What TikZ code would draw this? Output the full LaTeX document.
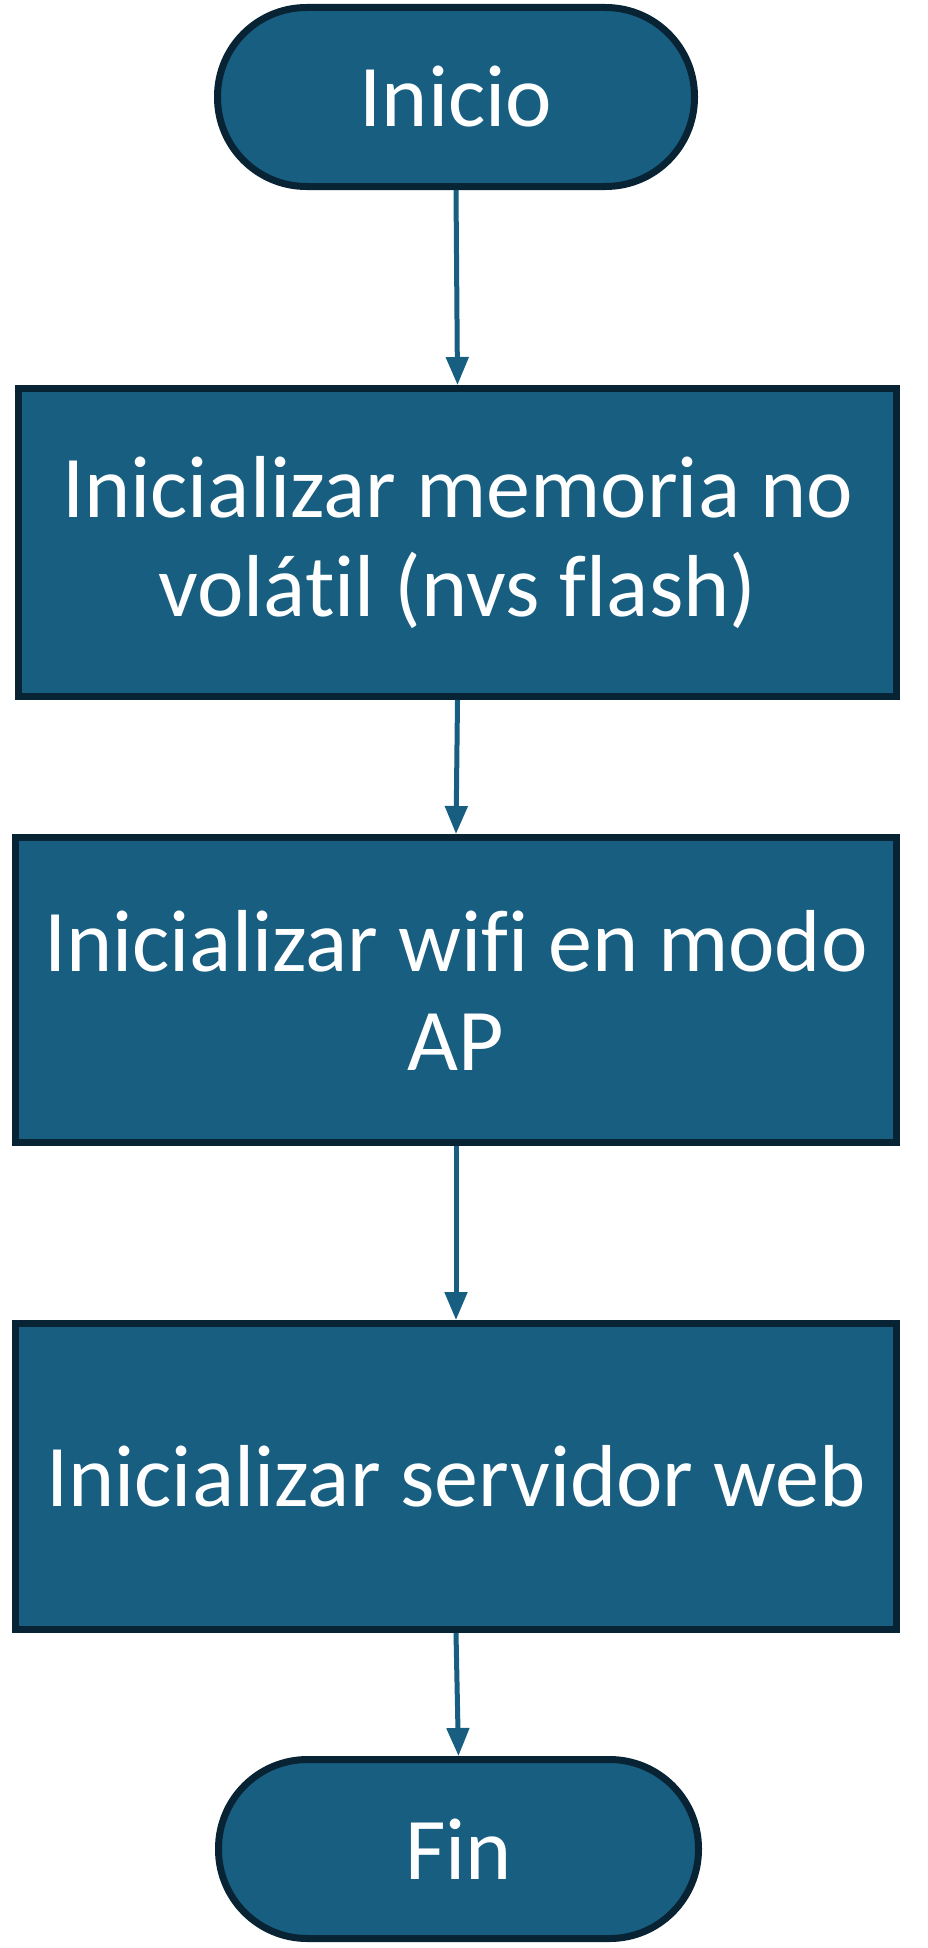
\documentclass[tikz,border=0pt]{standalone}
\usepackage{fontspec}
\setmainfont[RawFeature={-liga;-clig;-dlig}]{Carlito}
\usetikzlibrary{arrows.meta}
\definecolor{boxfill}{RGB}{24,94,128}
\definecolor{boxline}{RGB}{8,35,52}
\tikzset{
  stepbox/.style={draw=boxline, line width=7pt, fill=boxfill, text=white,
    rectangle, inner sep=0pt, align=center,
    font=\fontsize{88}{99}\selectfont},
  terminal/.style={stepbox, rounded corners=89pt},
  flow/.style={draw=boxfill, line width=5pt,
    -{Triangle[length=28pt,width=22pt]}}
}
\begin{document}
\begin{tikzpicture}[x=1pt,y=-1pt]
\useasboundingbox (0,0) rectangle (927,1948);
\node[terminal, minimum width=477pt, minimum height=179pt] (inicio) at (456,97) {Inicio};
\node[stepbox, minimum width=878pt, minimum height=308pt] (b1) at (457.5,542.5) {Inicializar memoria no\\vol\'atil (nvs flash)};
\node[stepbox, minimum width=881pt, minimum height=305pt] (b2) at (456,990) {Inicializar wifi en modo\\AP};
\node[stepbox, minimum width=881pt, minimum height=306pt] (b3) at (456,1476.5) {Inicializar servidor web};
\node[terminal, minimum width=480pt, minimum height=179pt] (fin) at (458.5,1849) {Fin};
\draw[flow] (inicio.south) -- (b1.north);
\draw[flow] (b1.south) -- (b2.north);
\draw[flow] (b2.south) -- (b3.north);
\draw[flow] (b3.south) -- (fin.north);
\end{tikzpicture}
\end{document}
